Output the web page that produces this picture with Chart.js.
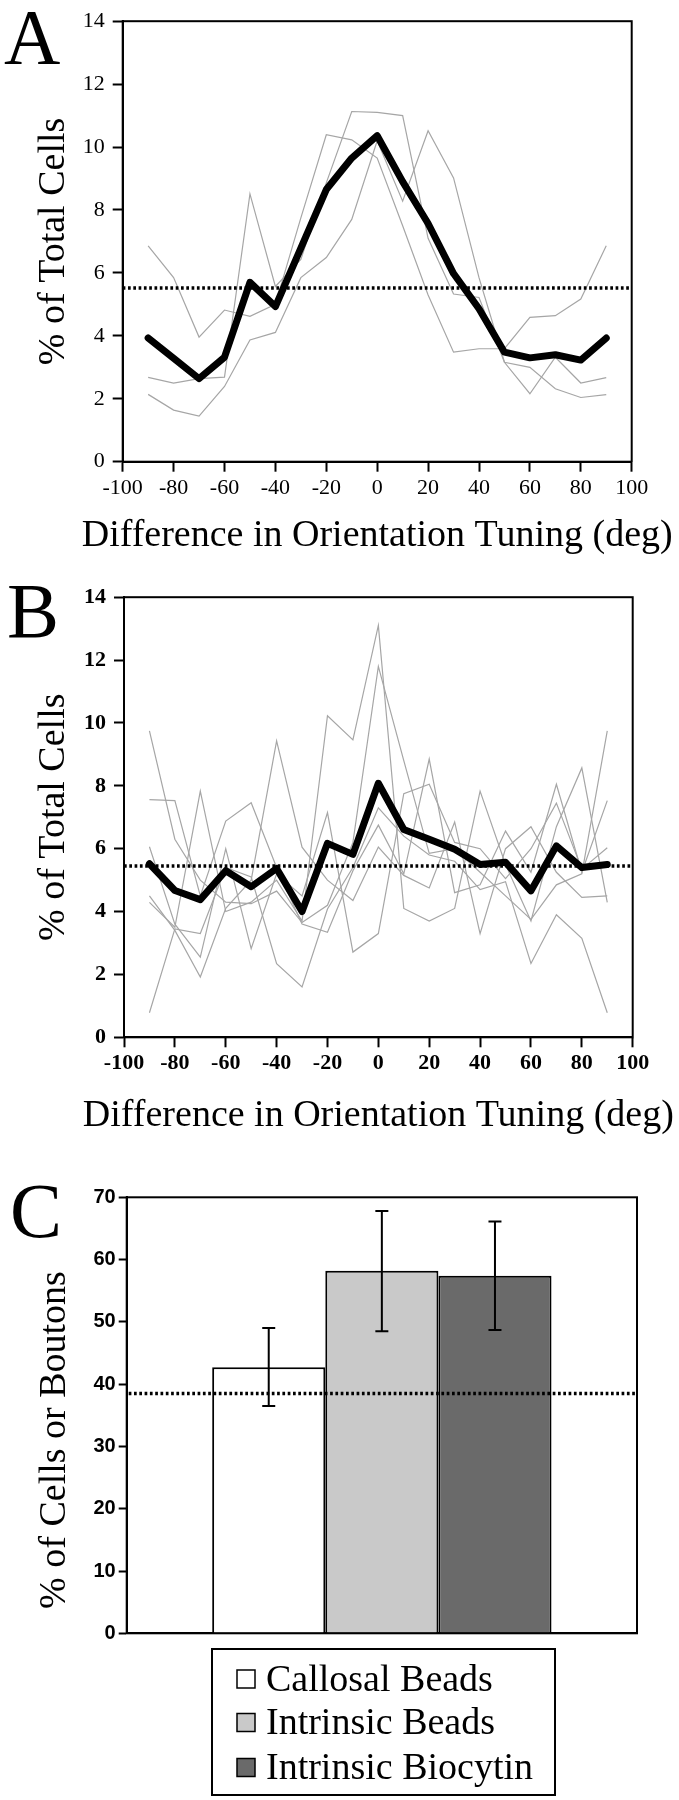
<!DOCTYPE html>
<html>
<head>
<meta charset="utf-8">
<script src="https://cdn.jsdelivr.net/npm/chart.js@4.4.1/dist/chart.umd.min.js"></script>
<style>
  html, body { margin: 0; padding: 0; background: #fff; }
  #page { position: relative; width: 679px; height: 1800px; }
  canvas { position: absolute; left: 0; }
</style>
</head>
<body>
<div id="page">
  <canvas id="chartA" width="679" height="576" style="top:0px"></canvas>
  <canvas id="chartB" width="679" height="579" style="top:576px"></canvas>
  <canvas id="chartC" width="679" height="645" style="top:1155px"></canvas>
</div>
<script>
// orientation difference bins (deg) and axis ticks
const angles = [-90, -80, -70, -60, -50, -40, -30, -20, -10, 0, 10, 20, 30, 40, 50, 60, 70, 80, 90];
const xTickVals = [-100, -80, -60, -40, -20, 0, 20, 40, 60, 80, 100];
const yTickValsAB = [0, 2, 4, 6, 8, 10, 12, 14];
const yTickValsC = [0, 10, 20, 30, 40, 50, 60, 70];

// A: mean (thick black) + individual cases (grey)
const meanA = [3.93, 3.29, 2.64, 3.32, 5.70, 4.93, 6.79, 8.65, 9.65, 10.36, 8.90, 7.57, 5.98, 4.86, 3.48, 3.30, 3.40, 3.23, 3.93];
const caseA1 = [6.86, 5.85, 3.96, 4.82, 4.62, 5.00, 7.75, 10.39, 10.23, 9.65, 7.50, 5.30, 3.48, 3.59, 3.59, 4.59, 4.64, 5.17, 6.86];
const caseA2 = [2.68, 2.50, 2.64, 2.69, 8.51, 5.57, 6.43, 8.86, 11.13, 11.10, 11.00, 7.10, 5.33, 5.22, 3.16, 2.16, 3.32, 2.50, 2.67];
const caseA3 = [2.14, 1.64, 1.45, 2.39, 3.87, 4.11, 5.85, 6.49, 7.70, 10.20, 8.28, 10.52, 9.02, 5.85, 3.16, 3.00, 2.32, 2.04, 2.13];
const chanceA = 5.52;

// B
const meanB = [5.52, 4.67, 4.38, 5.30, 4.79, 5.37, 4.00, 6.17, 5.82, 8.08, 6.61, 6.30, 5.98, 5.50, 5.57, 4.66, 6.09, 5.40, 5.50];
const caseB1 = [9.75, 6.30, 5.00, 4.30, 4.25, 4.65, 3.65, 4.20, 6.20, 11.80, 8.80, 5.85, 6.00, 5.25, 4.50, 3.75, 4.85, 5.20, 9.75];
const caseB2 = [7.56, 7.53, 4.50, 6.88, 7.46, 5.40, 3.60, 3.34, 5.30, 6.75, 5.20, 8.85, 4.60, 4.85, 6.56, 5.25, 8.05, 5.25, 7.53];
const caseB3 = [6.06, 3.60, 2.55, 6.00, 2.82, 5.20, 4.50, 7.15, 2.71, 3.30, 7.75, 8.05, 6.20, 6.00, 5.05, 6.00, 7.45, 5.35, 6.03];
const caseB4 = [4.50, 3.40, 1.92, 4.10, 5.00, 9.43, 6.05, 5.00, 4.35, 6.05, 5.15, 4.75, 6.85, 3.30, 6.00, 6.70, 5.25, 4.45, 4.50];
const caseB5 = [4.29, 3.50, 7.83, 4.00, 4.30, 5.00, 3.70, 10.23, 9.46, 13.10, 4.10, 3.70, 4.10, 7.83, 5.50, 3.70, 6.70, 8.57, 4.29];
const caseB6 = [0.78, 3.45, 3.30, 5.40, 5.10, 2.34, 1.60, 4.08, 5.40, 7.30, 6.40, 5.80, 5.60, 4.70, 4.95, 2.35, 3.90, 3.15, 0.78];
const chanceB = 5.45;

// C
const groupsC = ['Callosal Beads', 'Intrinsic Beads', 'Intrinsic Biocytin'];
const pctC = [42.7, 58.2, 57.4];
const errHiC = [49.0, 67.8, 66.1];
const errLoC = [36.5, 48.5, 48.7];
const chanceC = 38.5;

const SERIF = '"Liberation Serif", "Times New Roman", serif';
const SANS = '"Liberation Sans", Arial, sans-serif';
Chart.defaults.font.family = SERIF;
Chart.defaults.color = '#000';

// box round the plot area
const frame = {
  id: 'frame',
  afterDraw(chart) {
    const { ctx, chartArea: a } = chart;
    ctx.save();
    ctx.strokeStyle = '#000';
    ctx.lineWidth = 2;
    ctx.strokeRect(a.left, a.top, a.right - a.left, a.bottom - a.top);
    ctx.restore();
  }
};

// panel letter + axis titles (not squeezed to the plot width like scale titles)
const labels = {
  id: 'labels',
  afterDraw(chart, args, o) {
    const { ctx, chartArea: a } = chart;
    ctx.save();
    ctx.fillStyle = '#000';
    if (o.letter) {
      ctx.font = '78px ' + SERIF;
      ctx.textBaseline = 'alphabetic';
      ctx.fillText(o.letter, o.letterX, o.letterY);
    }
    ctx.textAlign = 'center';
    ctx.textBaseline = 'middle';
    ctx.font = '38px ' + SERIF;
    if (o.xTitle) ctx.fillText(o.xTitle, (a.left + a.right) / 2, o.xTitleY);
    if (o.yTitle) {
      ctx.translate(o.yTitleX, o.yTitleY != null ? o.yTitleY : (a.top + a.bottom) / 2);
      ctx.rotate(-Math.PI / 2);
      ctx.fillText(o.yTitle, 0, 0);
    }
    ctx.restore();
  }
};
Chart.register(frame, labels);

function lineChart(id, mean, cases, chance, lay, bold) {
  const datasets = cases.map(c => ({
    data: angles.map((a, i) => ({ x: a, y: c[i] })),
    borderColor: '#a6a6a6', borderWidth: 1.2, pointRadius: 0, order: 3
  }));
  datasets.push({
    data: [{ x: xTickVals[0], y: chance }, { x: xTickVals[xTickVals.length - 1], y: chance }],
    borderColor: '#000', borderWidth: 3.4, borderDash: [2.7, 2.6], pointRadius: 0, order: 2
  });
  datasets.push({
    data: angles.map((a, i) => ({ x: a, y: mean[i] })),
    borderColor: '#000', borderWidth: 7, borderJoinStyle: 'round', borderCapStyle: 'round',
    pointRadius: 0, order: 1
  });
  const tickFont = { family: SERIF, size: 22, weight: bold ? 'bold' : 'normal' };
  const padBottom = 20;
  return new Chart(document.getElementById(id), {
    type: 'line',
    data: { datasets },
    options: {
      responsive: false, animation: false, events: [],
      layout: { padding: { left: 0, top: lay.top, right: 679 - lay.right, bottom: padBottom } },
      plugins: {
        legend: { display: false }, tooltip: { enabled: false },
        labels: {
          letter: lay.letter, letterX: lay.letterX, letterY: lay.letterY,
          xTitle: 'Difference in Orientation Tuning (deg)', xTitleY: lay.titleY,
          yTitle: '% of Total Cells', yTitleX: 54
        }
      },
      scales: {
        x: {
          type: 'linear', min: xTickVals[0], max: xTickVals[xTickVals.length - 1],
          afterBuildTicks: s => { s.ticks = xTickVals.map(v => ({ value: v })); },
          afterFit: s => { s.height = lay.height - padBottom - lay.bottom; },
          grid: { drawOnChartArea: false, tickLength: 10, tickWidth: 2, tickColor: '#000' },
          border: { display: true, color: '#000', width: 2 },
          ticks: { color: '#000', font: tickFont, padding: 3, maxRotation: 0, autoSkip: false }
        },
        y: {
          min: 0, max: yTickValsAB[yTickValsAB.length - 1],
          afterBuildTicks: s => { s.ticks = yTickValsAB.map(v => ({ value: v })); },
          afterFit: s => { s.width = lay.left; },
          grid: { drawOnChartArea: false, tickLength: 10, tickWidth: 2, tickColor: '#000' },
          border: { display: true, color: '#000', width: 2 },
          ticks: { color: '#000', font: tickFont, padding: 8, autoSkip: false }
        }
      }
    }
  });
}

lineChart('chartA', meanA, [caseA1, caseA2, caseA3], chanceA,
  { top: 19.3, bottom: 461.7, left: 122.7, right: 631.7, titleY: 536, height: 576,
    letter: 'A', letterX: 4, letterY: 63 }, false);

lineChart('chartB', meanB, [caseB1, caseB2, caseB3, caseB4, caseB5, caseB6], chanceB,
  { top: 19, bottom: 461.3, left: 124, right: 632.7, titleY: 540, height: 579,
    letter: 'B', letterX: 7, letterY: 61 }, true);

// ---- panel C ----
const barFills = ['#ffffff', '#c9c9c9', '#6a6a6a'];

// chance level and error bars, placed with the chart's own scales
const barExtras = {
  id: 'barExtras',
  afterDatasetsDraw(chart) {
    const { ctx, chartArea: a } = chart;
    const y = chart.scales.y;
    ctx.save();
    ctx.strokeStyle = '#000';
    const yc = y.getPixelForValue(chanceC);
    ctx.lineWidth = 3.4;
    ctx.setLineDash([2.7, 2.6]);
    ctx.beginPath();
    ctx.moveTo(a.left + 2, yc);
    ctx.lineTo(a.right, yc);
    ctx.stroke();
    ctx.setLineDash([]);
    ctx.lineWidth = 2;
    groupsC.forEach((g, i) => {
      const bar = chart.getDatasetMeta(i).data[0];
      const hi = y.getPixelForValue(errHiC[i]), lo = y.getPixelForValue(errLoC[i]);
      ctx.beginPath();
      ctx.moveTo(bar.x, hi); ctx.lineTo(bar.x, lo);
      ctx.moveTo(bar.x - 6.5, hi); ctx.lineTo(bar.x + 6.5, hi);
      ctx.moveTo(bar.x - 6.5, lo); ctx.lineTo(bar.x + 6.5, lo);
      ctx.stroke();
    });
    ctx.restore();
  }
};

// boxed legend under the plot
const boxLegend = {
  id: 'boxLegend',
  afterDraw(chart) {
    const ctx = chart.ctx;
    ctx.save();
    ctx.strokeStyle = '#000';
    ctx.lineWidth = 2;
    ctx.strokeRect(212, 494, 343, 146);
    ctx.font = '38px ' + SERIF;
    ctx.textBaseline = 'middle';
    const rows = [524, 567.5, 612.5];
    chart.data.datasets.forEach((d, i) => {
      ctx.fillStyle = d.backgroundColor;
      ctx.fillRect(237, rows[i] - 9, 18, 18);
      ctx.lineWidth = 1.5;
      ctx.strokeRect(237, rows[i] - 9, 18, 18);
      ctx.fillStyle = '#000';
      ctx.fillText(d.label, 266, rows[i] + 2);
    });
    ctx.restore();
  }
};

new Chart(document.getElementById('chartC'), {
  type: 'bar',
  data: {
    labels: [''],
    datasets: groupsC.map((g, i) => ({
      label: g, data: [pctC[i]], backgroundColor: barFills[i],
      borderColor: '#000', borderWidth: 2
    }))
  },
  options: {
    responsive: false, animation: false, events: [],
    categoryPercentage: 0.665, barPercentage: 1,
    layout: { padding: { left: 0, top: 42.3, right: 42, bottom: 164.7 } },
    plugins: {
      legend: { display: false }, tooltip: { enabled: false },
      labels: { letter: 'C', letterX: 10, letterY: 82,
                yTitle: '% of Cells or Boutons', yTitleX: 55, yTitleY: 285 }
    },
    scales: {
      x: {
        afterFit: s => { s.height = 2; },
        grid: { display: false }, ticks: { display: false },
        border: { display: true, color: '#000', width: 2 }
      },
      y: {
        min: 0, max: yTickValsC[yTickValsC.length - 1],
        afterBuildTicks: s => { s.ticks = yTickValsC.map(v => ({ value: v })); },
        afterFit: s => { s.width = 126.7; },
        grid: { drawOnChartArea: false, tickLength: 8, tickWidth: 2, tickColor: '#000' },
        border: { display: true, color: '#000', width: 2 },
        ticks: { color: '#000', font: { family: SANS, size: 20, weight: 'bold' }, padding: 3, autoSkip: false }
      }
    }
  },
  plugins: [barExtras, boxLegend]
});
</script>
</body>
</html>
